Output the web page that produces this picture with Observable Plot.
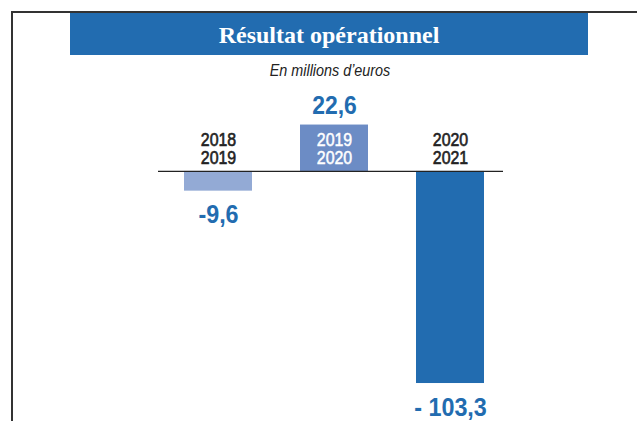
<!DOCTYPE html>
<html>
<head>
<meta charset="utf-8">
<script src="https://cdn.jsdelivr.net/npm/d3@7"></script>
<script src="https://cdn.jsdelivr.net/npm/@observablehq/plot@0.6"></script>
<style>
  html, body { margin: 0; padding: 0; background: white; }
  #wrap { position: relative; width: 637px; height: 421px; overflow: hidden; }
  #chart { position: absolute; left: 0; top: 0; }
  #frame { position: absolute; left: 11px; top: 11px; width: 640px; height: 420px;
           border-top: 2px solid #333; border-left: 2px solid #333; box-sizing: border-box; }
  #titlebar { position: absolute; left: 70px; top: 13px; width: 518px; height: 42px; background: #226cb0; }
  #title { position: absolute; left: 70px; width: 518px; top: 21.6px; text-align: center;
           font-family: "Liberation Serif", "DejaVu Serif", serif; font-weight: bold;
           font-size: 24px; line-height: normal; color: white; white-space: nowrap; }
  #subtitle { position: absolute; left: 0; width: 660px; top: 60.8px; text-align: center;
              font-family: "Liberation Sans", Arial, sans-serif; font-style: italic;
              font-size: 17px; line-height: normal; color: #222; white-space: nowrap;
              transform: scaleX(0.845); transform-origin: 330px 0; }
</style>
</head>
<body>
<div id="wrap">
  <div id="chart"></div>
  <div id="frame"></div>
  <div id="titlebar"></div>
  <div id="title">Résultat opérationnel</div>
  <div id="subtitle">En millions d’euros</div>
</div>
<script>
const periods = ["2018\n2019", "2019\n2020", "2020\n2021"];
const values = [-9.6, 22.6, -103.3];
const valueLabels = ["-9,6", "22,6", "- 103,3"];

const data = periods.map((p, i) => ({period: p, value: values[i], label: valueLabels[i]}));

const sans = "'Liberation Sans', Arial, sans-serif";

const chart = Plot.plot({
  width: 637,
  height: 421,
  marginLeft: 158,
  marginRight: 134,
  marginTop: 88,
  marginBottom: 0,
  style: {background: "transparent", overflow: "visible", fontFamily: sans},
  x: {domain: periods, axis: null, paddingInner: 0.416, paddingOuter: 0.19, align: 0.571},
  y: {domain: [-121.8, 40.4], axis: null},
  color: {domain: periods, range: ["#93aad5", "#6c8cc5", "#226cb0"]},
  marks: [
    Plot.barY(data, {x: "period", y: "value", fill: "period"}),
    Plot.ruleY([0], {stroke: "#222", strokeWidth: 1.2}),
    Plot.text(data, {filter: d => d.value < 0, x: "period", y: 0, text: "period",
      lineAnchor: "bottom", dy: -7, fill: "#222", stroke: "#222", strokeWidth: 0.6,
      fontSize: 17.7, lineHeight: 1.07, fontFamily: sans, className: "cond-year"}),
    Plot.text(data, {filter: d => d.value > 0, x: "period", y: 0, text: "period",
      lineAnchor: "bottom", dy: -7, fill: "white", stroke: "white", strokeWidth: 0.5,
      fontSize: 17.7, lineHeight: 1.07, fontFamily: sans, className: "cond-year"}),
    Plot.text(data, {filter: d => d.value > 0, x: "period", y: "value", text: "label",
      lineAnchor: "bottom", dy: -10.7, fill: "#226cb0", fontSize: 26, fontWeight: "bold",
      fontFamily: sans, className: "cond-value"}),
    Plot.text(data, {filter: d => d.value < 0, x: "period", y: "value", text: "label",
      lineAnchor: "top", dy: 13.5, fill: "#226cb0", fontSize: 26.5, fontWeight: "bold",
      fontFamily: sans, className: "cond-value"})
  ]
});
document.getElementById("chart").appendChild(chart);

// condense the text horizontally (narrow typeface look), keeping each text's anchor
function condense(selector, s) {
  chart.querySelectorAll(selector + " text").forEach(t => {
    let tr = t.getAttribute("transform");
    if (!tr) {
      const x = t.getAttribute("x") || 0, y = t.getAttribute("y") || 0;
      t.removeAttribute("x"); t.removeAttribute("y");
      tr = `translate(${x},${y})`;
    }
    t.setAttribute("transform", tr + ` scale(${s},1)`);
  });
}
condense(".cond-year", 0.9);
condense(".cond-value", 0.88);
</script>
</body>
</html>
